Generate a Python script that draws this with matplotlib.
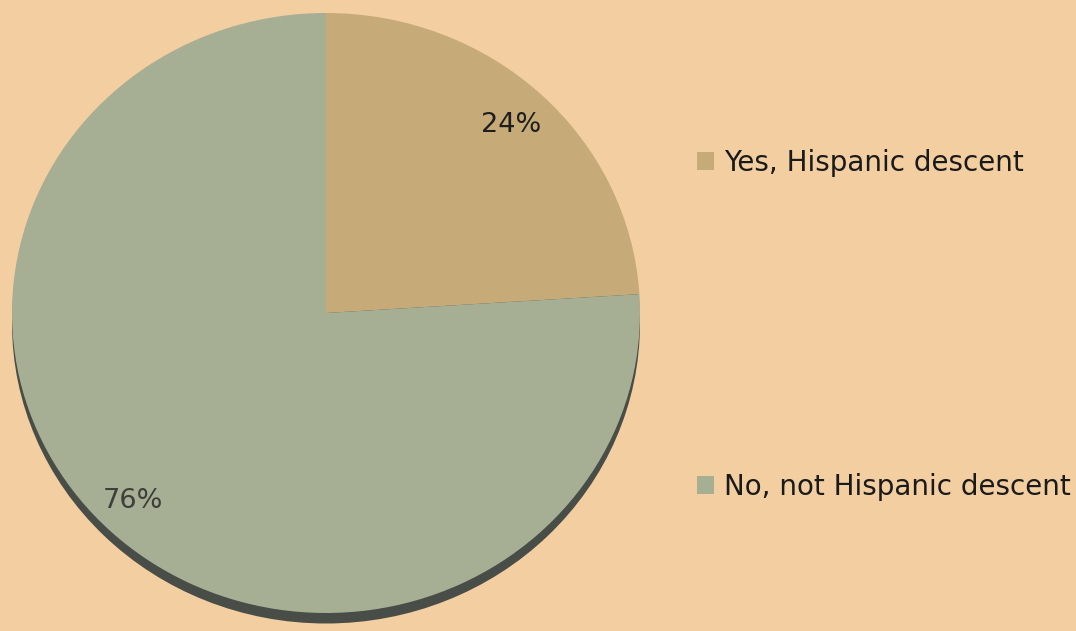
import matplotlib
matplotlib.use("Agg")
import matplotlib.pyplot as plt
from matplotlib.patches import Ellipse, Patch

categories = ["Yes, Hispanic descent", "No, not Hispanic descent"]
values = [24, 76]
colors = ["#c6ab78", "#a6ae94"]
bg = "#f2cea1"

W, H = 1076, 631
fig = plt.figure(figsize=(W / 100, H / 100), dpi=100, facecolor=bg)

# pie bounding box in pixels
px_l, px_r, px_t, px_b = 12, 640, 13, 613
ax = fig.add_axes([px_l / W, 1 - px_b / H, (px_r - px_l) / W, (px_b - px_t) / H])
ax.axis("off")
ax.patch.set_alpha(0)

# shadow
sh = Ellipse((0, -0.035), 2.0, 2.0, facecolor="#484e47", edgecolor="none",
             zorder=0, clip_on=False)
ax.add_patch(sh)

wedges, texts, autotexts = ax.pie(
    values, colors=colors, startangle=90, counterclock=False,
    autopct="%d%%", pctdistance=0.86, radius=1.0, frame=False,
    wedgeprops=dict(linewidth=0, zorder=1),
)
ax.set_xlim(-1, 1)
ax.set_ylim(-1, 1)
ax.set_aspect("auto")
for t, c in zip(autotexts, ["#1e1e1e", "#3c3f3a"]):
    t.set_fontsize(19.5)
    t.set_color(c)
    t.set_zorder(3)
x2, y2 = autotexts[1].get_position()
autotexts[1].set_position((x2 - 0.026, y2))

handles = [Patch(facecolor=c, edgecolor="none") for c in colors]
leg = fig.legend(handles, categories, loc="upper left",
                 bbox_to_anchor=(697 / W, 1 - 149 / H),
                 frameon=False, fontsize=20, labelspacing=10.66,
                 handlelength=0.62, handleheight=0.62, handletextpad=0.36,
                 borderpad=0, borderaxespad=0)
for t in leg.get_texts():
    t.set_color("#1a1a1a")

fig.savefig("out.png", dpi=100, facecolor=bg)
